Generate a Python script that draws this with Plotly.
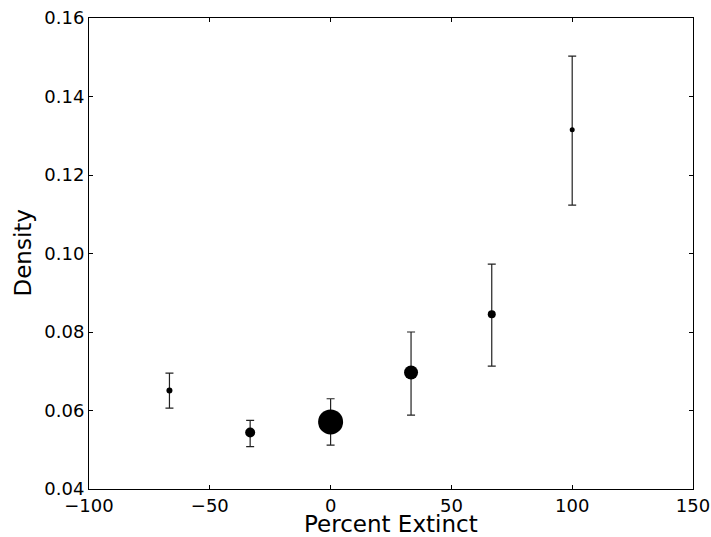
import plotly.graph_objects as go

percent_extinct = [-66.7, -33.3, 0.0, 33.3, 66.7, 100.0]
density = [0.0651, 0.0544, 0.0571, 0.0697, 0.0845, 0.1315]
err_upper = [0.0695, 0.0575, 0.0630, 0.0800, 0.0973, 0.1503]
err_lower = [0.0606, 0.0508, 0.0512, 0.0588, 0.0713, 0.1123]
marker_diam = [6, 10, 25, 14, 8, 5]

plus = [u - d for u, d in zip(err_upper, density)]
minus = [d - l for d, l in zip(density, err_lower)]

fig = go.Figure()
fig.add_trace(go.Scatter(
    x=percent_extinct, y=density, mode="markers",
    marker=dict(color="black", size=marker_diam, opacity=1, line=dict(width=0)),
    error_y=dict(type="data", symmetric=False, array=plus, arrayminus=minus,
                 color="#222222", thickness=1.2, width=4),
    showlegend=False,
))

axis_common = dict(
    showgrid=False, zeroline=False, showline=True, linecolor="black", linewidth=1,
    mirror="allticks", ticks="inside", ticklen=4, tickwidth=1, tickcolor="black",
    tickfont=dict(family="DejaVu Sans", size=18, color="black"), automargin=False,
)
fig.update_layout(
    width=711, height=537,
    margin=dict(l=89, r=18, t=18, b=48),
    paper_bgcolor="white", plot_bgcolor="white",
    xaxis=dict(range=[-100, 150], tickvals=[-100, -50, 0, 50, 100, 150], **axis_common),
    yaxis=dict(range=[0.04, 0.16], tickvals=[0.04, 0.06, 0.08, 0.10, 0.12, 0.14, 0.16], tickformat=".2f",
               **axis_common),
    annotations=[
        dict(text="Percent Extinct", xref="paper", yref="paper", x=0.5, y=0, xanchor="center", yanchor="middle",
             yshift=-35, showarrow=False, font=dict(family="DejaVu Sans", size=23, color="black")),
        dict(text="Density", xref="paper", yref="paper", x=0, y=0.5, xanchor="center", yanchor="middle",
             xshift=-67, textangle=-90, showarrow=False, font=dict(family="DejaVu Sans", size=23, color="black")),
    ],
)
fig.write_html("out.html", config={"displayModeBar": False},
               post_script="document.body.style.margin='0';document.body.style.overflow='hidden';")
